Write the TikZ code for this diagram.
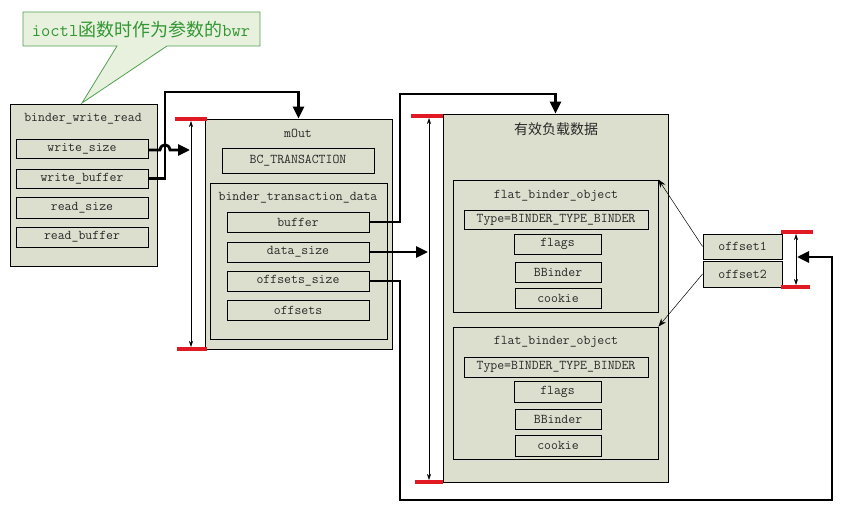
\documentclass[tikz,border=0pt]{standalone}
\usepackage{fontspec}
\newfontfamily\cjk{Noto Sans CJK SC}
\usetikzlibrary{arrows.meta}
\definecolor{boxfill}{RGB}{220,222,206}
\definecolor{callfill}{RGB}{232,241,222}
\definecolor{callline}{RGB}{80,160,80}
\definecolor{calltext}{RGB}{50,150,50}
\definecolor{redbar}{RGB}{225,25,35}
\definecolor{txt}{RGB}{40,40,40}
\newcommand\fld[6]{\node[fieldbox, minimum width={(#4-#2)*1pt}, minimum height={(#5-#3)*1pt}] (#1) at ({(#2+#4)/2},{(#3+#5)/2}) {#6};}
\begin{document}
\begin{tikzpicture}[x=1pt,y=-1pt,
  fieldbox/.style={draw=black, fill=boxfill, line width=0.9pt, inner sep=0pt, text=txt, font=\fontsize{13.4}{13.4}\selectfont\ttfamily},
  title/.style={text=txt, inner sep=0pt, font=\fontsize{13.4}{13.4}\selectfont\ttfamily},
  thickline/.style={line width=2.8pt, -{Triangle[length=12pt,width=11pt]}},
  span/.style={line width=0.6pt, {Stealth[length=6pt,width=4pt]}-{Stealth[length=6pt,width=4pt]}},
  ptr/.style={line width=0.5pt, -{Stealth[length=8pt,width=6pt]}},
  redbar/.style={draw=redbar, line width=3.5pt}]
\useasboundingbox (0,0) rectangle (841,511);

% callout
\draw[fill=callfill, draw=callline, line width=0.8pt] (23,12) -- (260,12) -- (260,46) -- (167,46) -- (82,103) -- (117,46) -- (23,46) -- cycle;
\node[text=calltext, inner sep=0pt, font=\fontsize{18}{18}\selectfont\ttfamily] (calltxt) at (141,30) {ioctl{\cjk 函数时作为参数的}bwr};

% binder_write_read
\fld{bwr}{10}{104}{157}{266}{}
\node[title] (bwrt) at (83,119) {binder\_write\_read};
\fld{ws}{16}{139}{148}{158}{write\_size}
\fld{wb}{16}{169}{148}{188}{write\_buffer}
\fld{rs}{16}{197}{148}{218}{read\_size}
\fld{rb}{16}{227}{148}{247}{read\_buffer}

% mOut
\fld{mout}{205}{119}{392}{349}{}
\node[title] (moutt) at (298,133) {mOut};
\fld{bct}{222}{148}{374}{173}{BC\_TRANSACTION}
\fld{btd}{210}{183}{387}{339}{}
\node[title] (btdt) at (298,198) {binder\_transaction\_data};
\fld{buf}{227}{212}{369}{232}{buffer}
\fld{ds}{227}{242}{369}{262}{data\_size}
\fld{os}{227}{271}{369}{291}{offsets\_size}
\fld{offs}{227}{300}{369}{320}{offsets}

% payload
\fld{pay}{443}{114}{668}{482}{}
\node[title, font=\fontsize{14}{14}\selectfont\cjk] (payt) at (556,129) {有效负载数据};
\fld{fa}{453}{180}{658}{312}{}
\node[title] (fat) at (556,196) {flat\_binder\_object};
\fld{fatype}{464}{210}{648}{229}{Type=BINDER\_TYPE\_BINDER}
\fld{faflags}{514}{234}{601}{254}{flags}
\fld{fabb}{515}{262}{601}{282}{BBinder}
\fld{facook}{515}{288}{601}{308}{cookie}
\fld{fb}{453}{327}{658}{459}{}
\node[title] (fbt) at (556,342) {flat\_binder\_object};
\fld{fbtype}{464}{357}{648}{377}{Type=BINDER\_TYPE\_BINDER}
\fld{fbflags}{514}{381}{601}{402}{flags}
\fld{fbbb}{515}{409}{601}{429}{BBinder}
\fld{fbcook}{515}{435}{601}{456}{cookie}

% offsets
\fld{o1}{703}{234}{782}{259}{offset1}
\fld{o2}{703}{261}{782}{287}{offset2}

% red bars and spans
\coordinate (m1a) at (175,119); \coordinate (m1b) at (207,119);
\coordinate (m2a) at (177,349); \coordinate (m2b) at (207,349);
\draw[redbar] (m1a) -- (m1b);
\draw[redbar] (m2a) -- (m2b);
\coordinate (mst) at (191,121); \coordinate (msb) at (191,347);
\draw[span] (mst) -- (msb);

\coordinate (p1a) at (411,116); \coordinate (p1b) at (443,116);
\coordinate (p2a) at (415,482); \coordinate (p2b) at (443,482);
\draw[redbar] (p1a) -- (p1b);
\draw[redbar] (p2a) -- (p2b);
\coordinate (pst) at (429,118); \coordinate (psb) at (429,480);
\draw[span] (pst) -- (psb);

\coordinate (q1a) at (781,232); \coordinate (q1b) at (813,232);
\coordinate (q2a) at (781,287); \coordinate (q2b) at (810,287);
\draw[redbar] (q1a) -- (q1b);
\draw[redbar] (q2a) -- (q2b);
\coordinate (qst) at (796,234); \coordinate (qsb) at (796,285);
\draw[span] (qst) -- (qsb);

% thick connectors
\coordinate (wsend) at (190,150);
\draw[thickline] (ws.east |- 0,150) -- (160,150) .. controls (161,143) and (169,143) .. (170,150) -- (wsend);
\draw[thickline] (wb.east) -- (165,178.5) -- (165,92) -- (mout.north |- 0,92) -- (mout.north);
\draw[thickline] (buf.east) -- (400,222) -- (400,94) -- (pay.north |- 0,94) -- (pay.north);
\coordinate (dsend) at (428,252);
\draw[thickline] (ds.east) -- (dsend);
\coordinate (osend) at (797,257);
\draw[thickline] (os.east) -- (400,281) -- (400,500) -- (832,500) -- (832,257) -- (osend);

% pointers
\draw[ptr] (o1.west) -- (fa.north east);
\draw[ptr] (o2.west) -- (fb.north east);
\end{tikzpicture}
\end{document}
